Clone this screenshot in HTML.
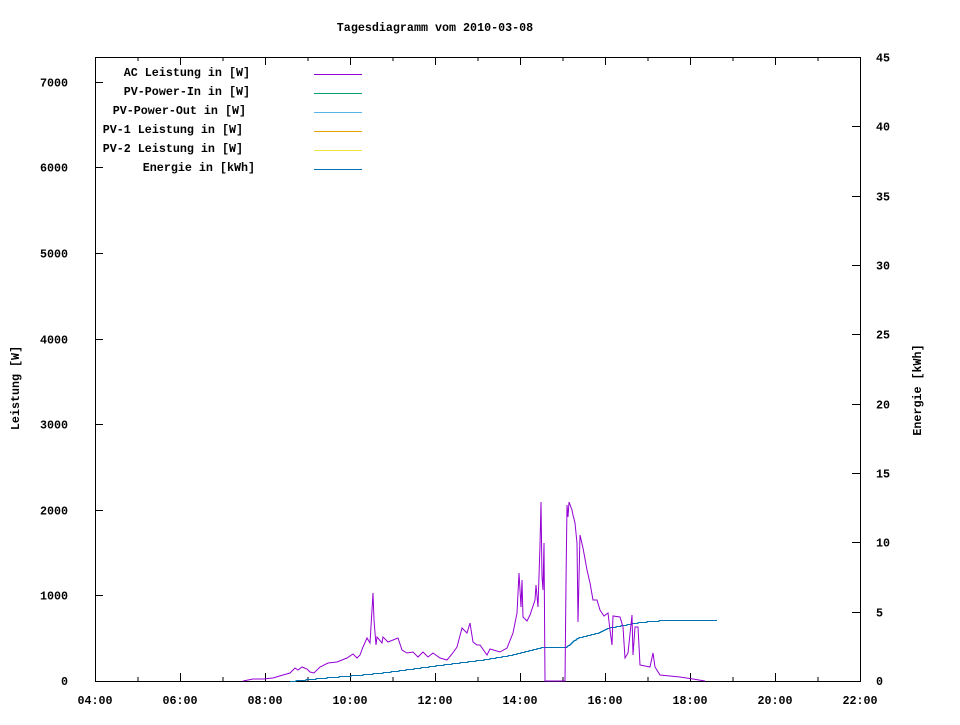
<!DOCTYPE html>
<html><head><meta charset="utf-8"><style>
body{margin:0;background:#fff}
text{font-family:"Liberation Mono",monospace;font-weight:bold;font-size:11.7px;fill:#000}
</style></head><body>
<svg id="s" width="960" height="720" xmlns="http://www.w3.org/2000/svg">
<rect width="960" height="720" fill="#fff"/>
<text x="435" y="31" text-anchor="middle">Tagesdiagramm vom 2010-03-08</text>
<g id="ticks" stroke="#000" stroke-width="1"></g>
<g id="labels"></g>
<rect x="95.5" y="57.5" width="765" height="624" fill="none" stroke="#000"/>
<text transform="translate(19,388) rotate(-90)" text-anchor="middle">Leistung [W]</text>
<text transform="translate(921,390) rotate(-90)" text-anchor="middle">Energie [kWh]</text>
<g text-anchor="end">
<text x="250" y="76">AC Leistung in [W]</text>
<text x="250" y="95">PV-Power-In in [W]</text>
<text x="246" y="114">PV-Power-Out in [W]</text>
<text x="243" y="133">PV-1 Leistung in [W]</text>
<text x="243" y="152">PV-2 Leistung in [W]</text>
<text x="255" y="171">Energie in [kWh]</text>
</g>
<g stroke-width="1">
<line x1="314" x2="362" y1="74.5" y2="74.5" stroke="#9400d3"/>
<line x1="314" x2="362" y1="93.5" y2="93.5" stroke="#009e73"/>
<line x1="314" x2="362" y1="112.5" y2="112.5" stroke="#56b4e9"/>
<line x1="314" x2="362" y1="131.5" y2="131.5" stroke="#e69f00"/>
<line x1="314" x2="362" y1="150.5" y2="150.5" stroke="#f0e442"/>
<line x1="314" x2="362" y1="169.5" y2="169.5" stroke="#0072b2"/>
</g>
<path id="en" fill="none" stroke="#0072b2" stroke-width="1"/>
<polyline fill="none" stroke="#9400d3" stroke-width="1" points="243,681 253,679 263,679 273,678 283,675 290,673 295,668 298,670 302,667 307,669 310,672 314,673 320,667 328,663 337,662 347,658 353,654 357,658 360,655 363,647 367,638 370,643 373,593 374,620 376,645 377,637 382,643 383,637 388,642 393,640 398,638 402,650 407,653 413,652 418,657 423,652 428,657 433,653 440,658 447,660 452,654 457,647 462,628 467,633 470,623 473,642 477,645 480,645 487,655 490,649 500,652 507,648 513,633 517,613 519,573 521,607 522,580 523,617 527,621 530,615 535,600 536,585 538,607 540,545 541,502 542,577 543,590 544,543 545,681 565,681 566,582 567,505 568,517 569,502 572,510 573,515 575,523 577,543 578,622 580,535 583,548 587,570 590,583 593,600 597,600 600,610 604,616 608,613 610,630 612,645 613,616 620,617 623,627 625,658 628,653 632,615 633,655 635,627 638,627 640,665 650,667 653,653 655,667 660,675 680,677 693,679 705,681"/>
</svg>
<script>
var NS="http://www.w3.org/2000/svg",t=document.getElementById('ticks'),L=document.getElementById('labels');
function ln(a,b,c,d){var e=document.createElementNS(NS,'line');e.setAttribute('x1',a);e.setAttribute('y1',b);e.setAttribute('x2',c);e.setAttribute('y2',d);t.appendChild(e);}
function tx(x,y,s,a){var e=document.createElementNS(NS,'text');e.setAttribute('x',x);e.setAttribute('y',y);e.setAttribute('text-anchor',a);e.textContent=s;L.appendChild(e);}
for(var h=0;h<=18;h++){var x=95.5+h*42.5;var len=h%2?4:8;ln(x,681,x,681-len);ln(x,57,x,57+len);
 if(h%2==0){var hh=4+h;tx(95+h*42.5,704,(hh<10?'0':'')+hh+':00','middle');}}
for(var i=1;i<=7;i++){var y=Math.round(681-i*85.6)+.5;ln(95,y,103,y);tx(68,y+4,String(i*1000),'end');}
tx(68,685,'0','end');
for(var i=1;i<=9;i++){var y=Math.round(681-i*624/9)+.5;ln(860,y,852,y);tx(876,y+4,String(i*5),'start');}
tx(876,685,'0','start');
var P=[[290,681],[320,678],[357,675],[387,672],[417,668],[447,664],[480,660],[510,655],[543,647],[566,647],[577,638],[600,632],[607,628],[640,622],[665,620],[717,620]];
var d='M290,681.5',cy=681;
for(var x=291;x<=717;x++){var k=0;while(k<P.length-1&&P[k+1][0]<x)k++;var a=P[k],b=P[Math.min(k+1,P.length-1)];var y=b[0]==a[0]?b[1]:a[1]+(b[1]-a[1])*(x-a[0])/(b[0]-a[0]);y=Math.round(y);if(y!=cy){d+=' H'+x+' V'+(y+.5);cy=y;}}
d+=' H717';document.getElementById('en').setAttribute('d',d);
</script>
</body></html>
